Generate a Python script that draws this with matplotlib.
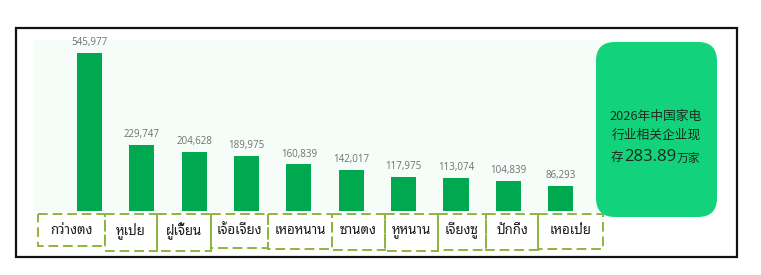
import matplotlib
matplotlib.use("Agg")
import matplotlib.pyplot as plt
from matplotlib.patches import Rectangle, FancyBboxPatch

provinces = ["กว่างตง", "หูเป่ย", "ฝูเจี้ยน", "เจ้อเจียง", "เหอหนาน",
             "ซานตง", "หูหนาน", "เจียงซู", "ปักกิ่ง", "เหอเป่ย"]
companies = [545977, 229747, 204628, 189975, 160839,
             142017, 117975, 113074, 104839, 86293]
note_lines = ["2026年中国家电", "行业相关企业现"]
note_total = "283.89"

W, H = 761, 275
THAI = ["Noto Sans Thai Looped", "Noto Sans Thai", "DejaVu Sans"]
CJK = ["Noto Sans CJK SC", "DejaVu Sans"]
BAR = "#00a94f"
DASH = "#8db53c"
INK = "#1c2b22"

fig = plt.figure(figsize=(W / 100, H / 100), dpi=100)

# background layer in pixel coordinates (origin top-left)
bg = fig.add_axes([0, 0, 1, 1], zorder=0)
bg.set_xlim(0, W)
bg.set_ylim(H, 0)
bg.axis("off")
bg.add_patch(Rectangle((34, 40), 680, 172, facecolor="#f6fcf8",
                       edgecolor="none", zorder=0))
bg.add_patch(Rectangle((16, 28), 721, 229, facecolor="none",
                       edgecolor="#111111", linewidth=1.6, zorder=5))

# bar axes: bar i centred at px 89.5 + 52.35*i, baseline at py 211
step = 52.35
left_px, right_px, top_px, base_px = 37, 590, 40, 211
ax = fig.add_axes([left_px / W, 1 - base_px / H, (right_px - left_px) / W,
                   (base_px - top_px) / H], zorder=1)
ax.set_xlim((left_px - 89.5) / step, (right_px - 89.5) / step)
ax.set_ylim(0, companies[0] * (base_px - top_px) / 158)
ax.patch.set_alpha(0)
ax.axis("off")
x = list(range(len(companies)))
ax.bar(x, companies, width=0.48, color=BAR, zorder=2)
for xi, v in zip(x, companies):
    ax.annotate(f"{v:,}", (xi, v), xytext=(0, 3.5), textcoords="offset points",
                ha="center", va="bottom", fontsize=7, color="#707070",
                family=["Open Sans", "DejaVu Sans"])

# dashed label boxes
edges = [38, 105, 157, 211, 268, 332, 385, 438, 486, 538, 603]
bottoms = [246, 251, 251, 248, 249, 250, 251, 250, 250, 249]
for i, name in enumerate(provinces):
    l, r = edges[i], edges[i + 1]
    bg.add_patch(Rectangle((l, 214), r - l, bottoms[i] - 214,
                           facecolor="none", edgecolor=DASH, linewidth=1.4,
                           linestyle=(0, (5, 2.5)), zorder=3))
    bg.text((l + r) / 2, 231, name, ha="center", va="center",
            fontsize=9.5, color="#1e1e1e", family=THAI, zorder=4)

# green summary card
bg.add_patch(FancyBboxPatch((596, 42), 121, 175,
                            boxstyle="round,pad=0,rounding_size=19",
                            facecolor="#12d27b", edgecolor="none", zorder=2))
bg.text(656, 116, note_lines[0], ha="center", va="center", fontsize=9.2,
        color=INK, family=CJK, fontweight="medium", zorder=4)
bg.text(656, 135, note_lines[1], ha="center", va="center", fontsize=9.2,
        color=INK, family=CJK, fontweight="medium", zorder=4)
num = bg.text(624, 157, note_total, ha="left", va="center", fontsize=12,
              color=INK, family=["Open Sans", "DejaVu Sans"], zorder=4)
bg.text(623, 158, "存", ha="right", va="center", fontsize=9,
        color=INK, family=CJK, fontweight="medium", zorder=4)
fig.canvas.draw()
ext = num.get_window_extent().transformed(bg.transData.inverted())
bg.text(max(ext.x0, ext.x1) + 0.5, 158.5, "万家", ha="left", va="center",
        fontsize=8.5, color=INK, family=CJK, fontweight="medium", zorder=4)

fig.savefig("out.png", dpi=100)
